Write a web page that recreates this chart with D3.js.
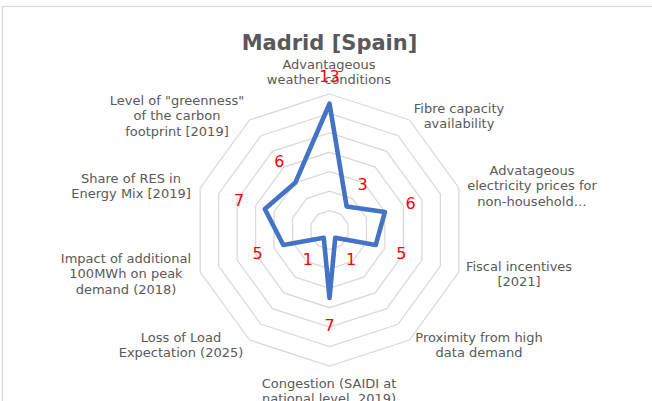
<!DOCTYPE html>
<html>
<head>
<meta charset="utf-8">
<script src="https://cdn.jsdelivr.net/npm/d3@7"></script>
<style>
  html, body { margin: 0; padding: 0; background: #fff; }
  svg { display: block; }
</style>
</head>
<body>
<svg id="chart" width="652" height="401"></svg>
<script>
// Criteria scored for the site, clockwise from the top
const categories = [
  ["Advantageous", "weather conditions"],
  ["Fibre capacity", "availability"],
  ["Advatageous", "electricity prices for", "non-household…"],
  ["Fiscal incentives", "[2021]"],
  ["Proximity from high", "data demand"],
  ["Congestion (SAIDI at", "national level, 2019)"],
  ["Loss of Load", "Expectation (2025)"],
  ["Impact of additional", "100MWh on peak", "demand (2018)"],
  ["Share of RES in", "Energy Mix [2019]"],
  ["Level of \"greenness\"", "of the carbon", "footprint [2019]"]
];
const scores = [13, 3, 6, 5, 1, 7, 1, 5, 7, 6];
const ringTicks = [2, 4, 6, 8, 10, 12, 14];
const title = "Madrid [Spain]";

const svg = d3.select("#chart");
const cx = 329.5, cy = 230, R = 136;
const n = categories.length;
const r = d3.scaleLinear().domain([0, 14]).range([0, R]);
const angle = i => (i / n) * 2 * Math.PI;
const pt = (i, v) => [cx + r(v) * Math.sin(angle(i)), cy - r(v) * Math.cos(angle(i))];

// chart area frame
svg.append("rect")
  .attr("x", 2.5).attr("y", 6.5).attr("width", 700).attr("height", 500)
  .attr("fill", "none").attr("stroke", "#d9d9d9").attr("stroke-width", 1.2);

// title
svg.append("text")
  .attr("x", cx).attr("y", 50)
  .attr("text-anchor", "middle")
  .attr("font-family", "Verdana, 'DejaVu Sans', sans-serif")
  .attr("font-size", 21).attr("font-weight", "bold")
  .attr("fill", "#595959")
  .text(title);

// grid rings
const ringLine = d3.line();
svg.append("g").selectAll("path")
  .data(ringTicks)
  .join("path")
  .attr("d", t => ringLine(d3.range(n).map(i => pt(i, t))) + "Z")
  .attr("fill", "none")
  .attr("stroke", "#d9d9d9")
  .attr("stroke-width", 1.3);

// category labels
const labelPos = [
  [329, 64], [459, 108], [532, 170], [519, 266], [479, 337],
  [329, 383], [181, 337], [126, 258], [131, 178], [177, 100]
];
const catG = svg.append("g")
  .attr("font-family", "Verdana, 'DejaVu Sans', sans-serif")
  .attr("font-size", 13)
  .attr("fill", "#595959")
  .attr("text-anchor", "middle");
categories.forEach((lines, i) => {
  const t = catG.append("text")
    .attr("x", labelPos[i][0]).attr("y", labelPos[i][1]);
  lines.forEach((s, k) => {
    t.append("tspan")
      .attr("x", labelPos[i][0])
      .attr("dy", k === 0 ? "0.35em" : 15.8)
      .text(s);
  });
});

// score outline
const series = d3.line().curve(d3.curveLinearClosed);
svg.append("path")
  .attr("d", series(scores.map((v, i) => pt(i, v))))
  .attr("fill", "none")
  .attr("stroke", "#4472c4")
  .attr("stroke-width", 4.6)
  .attr("stroke-linejoin", "round");

// value labels
svg.append("g")
  .attr("font-family", "Verdana, 'DejaVu Sans', sans-serif")
  .attr("font-size", 16)
  .attr("fill", "#ff0000")
  .attr("text-anchor", "middle")
  .selectAll("text")
  .data(scores)
  .join("text")
  .attr("x", (v, i) => cx + (r(v) + 27) * Math.sin(angle(i)))
  .attr("y", (v, i) => cy - (r(v) + 27) * Math.cos(angle(i)))
  .attr("dy", "0.36em")
  .text(v => v);
</script>
</body>
</html>
